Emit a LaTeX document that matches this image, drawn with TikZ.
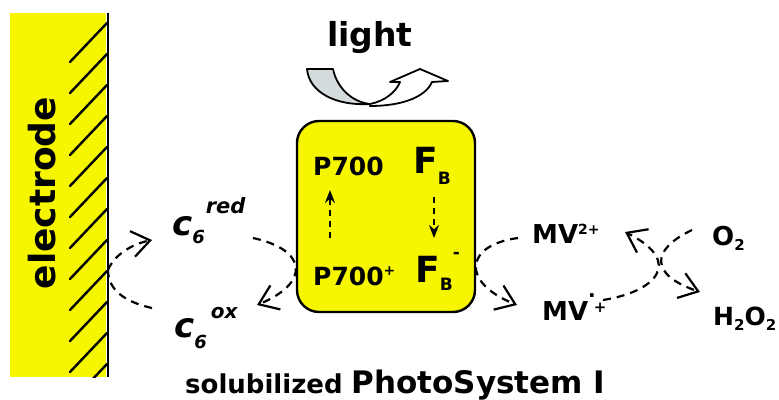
\documentclass[tikz,border=0pt]{standalone}
\usepackage{fontspec}
\setmainfont{DejaVu Sans}
\usetikzlibrary{arrows.meta}
\definecolor{psyellow}{RGB}{246, 246, 0}
\definecolor{lightgrey}{RGB}{212, 219, 221}
\newcommand{\fsz}[1]{\fontsize{#1}{#1}\selectfont}
\tikzset{
	lbl/.style={inner sep=0pt, anchor=base west, font=\bfseries},
	psbox/.style={rectangle, rounded corners=22pt, draw=black, fill=psyellow, line width=2.4pt, minimum width=178pt, minimum height=191pt},
	hatch/.style={line width=2.4pt, line cap=round},
	dashline/.style={dash pattern=on 8pt off 6pt, line width=2.2pt},
	barb/.style={dashline, -{Straight Barb[length=18pt, width=26pt, line width=2.2pt]}},
	updown/.style={dash pattern=on 6pt off 5pt, line width=2pt, -{Stealth[length=13pt, width=10pt]}},
}

\begin{document}
\begin{tikzpicture}[x=1pt, y=-1pt]
		\useasboundingbox (0,0) rectangle (779,399);
		% electrode
		\fill[psyellow] (10,13) rectangle (106,377);
		\begin{scope}
			\clip (10,13) rectangle (108,377);
			\foreach \y in {23,54,...,364}
				\draw[hatch] (70,\y+39) -- (107,\y);
		\end{scope}
		\draw[line width=2.5pt] (108,13) -- (108,377);
		\node[font=\bfseries\fsz{36}, rotate=90, inner sep=0pt] (elabel) at (42,193) {electrode};
		\coordinate (elec) at (108,270);
		% light
		\node[lbl, font=\bfseries\fsz{33}] (light) at (327,46) {light};
		\filldraw[fill=lightgrey, line width=1.8pt, line join=round] (307,69) -- (333,69) .. controls (337,88) and (352,102) .. (370,104) .. controls (335,106) and (309,92) .. (307,69) -- cycle;
		\filldraw[fill=white, line width=1.8pt, line join=round] (370,104) .. controls (385,101) and (396,92) .. (400,82) -- (390,82) -- (420,69) -- (448,81) -- (432,82) .. controls (425,98) and (400,106) .. (370,106) -- cycle;
		% photosystem
		\node[psbox] (ps) at (386,216.5) {};
		\node[lbl, font=\bfseries\fsz{25}] (p700) at (313,175) {P700};
		\node[lbl, font=\bfseries\fsz{25}] (p700plus) at (313,285) {P700\raisebox{10pt}{\fsz{14}+}};
		\node[lbl, font=\bfseries\fsz{36}] (fb) at (413,173) {F\raisebox{-11pt}{\fsz{17}B}};
		\node[lbl, font=\bfseries\fsz{36}] (fbminus) at (415,282) {F\raisebox{-8pt}{\fsz{17}B}\raisebox{24pt}{\fsz{17}-}};
		\draw[updown] ([xshift=17pt]p700plus.base west) ++(0,-47) -- ([shift={(17,15)}]p700.base west);
		\draw[updown] ([shift={(21,24)}]fb.base west) -- ([shift={(19,-44)}]fbminus.base west);
		% cytochrome
		\node[lbl, font=\bfseries\itshape\fsz{34}] (c6red) at (172,235) {c\raisebox{-8pt}{\fsz{18}6}\kern1pt\raisebox{22pt}{\fsz{21}red}};
		\node[lbl, font=\bfseries\itshape\fsz{34}] (c6ox) at (174,337) {c\raisebox{-11pt}{\fsz{18}6}\kern4pt\raisebox{19pt}{\fsz{20}ox}};
		% methyl viologen and oxygen
		\node[lbl, font=\bfseries\fsz{26}] (mv2) at (532,243) {MV\raisebox{9pt}{\fsz{14}2+}};
		\node[lbl, font=\bfseries\fsz{26}] (mvrad) at (542,320) {MV\raisebox{18pt}{\fsz{20}·}\kern-2pt\raisebox{8pt}{\fsz{15}+}};
		\node[lbl, font=\bfseries\fsz{26}] (o2) at (712,245) {O\raisebox{-5pt}{\fsz{15}2}};
		\node[lbl, font=\bfseries\fsz{25}] (h2o2) at (713,325) {H\raisebox{-5pt}{\fsz{15}2}O\raisebox{-5pt}{\fsz{15}2}};
		\node[lbl] (title) at (185,393) {\fsz{26}solubilized \fsz{31}PhotoSystem I};
		% electron transfer
		\draw[barb] (elec) .. controls (114,255) and (132,244) .. ([shift={(-20,5)}]c6red.base west);
		\draw[dashline] ([shift={(-22,-29)}]c6ox.base west) .. controls (125,302) and (108,290) .. (elec);
		\draw[barb] ([shift={(81,3)}]c6red.base west) .. controls (308,250) and (310,283) .. ([shift={(83,-32)}]c6ox.base west);
		\draw[barb] ([shift={(-14,-5)}]mv2.base west) .. controls (465,245) and (460,282) .. ([shift={(-25,-15)}]mvrad.base west);
		\draw[barb] ([shift={(61,-20)}]mvrad.base west) .. controls (655,292) and (685,262) .. ([shift={(-87,-13)}]o2.base west);
		\draw[barb] ([shift={(-20,-15)}]o2.base west) .. controls (650,250) and (650,275) .. ([shift={(-13,-33)}]h2o2.base west);
	\end{tikzpicture}
\end{document}
